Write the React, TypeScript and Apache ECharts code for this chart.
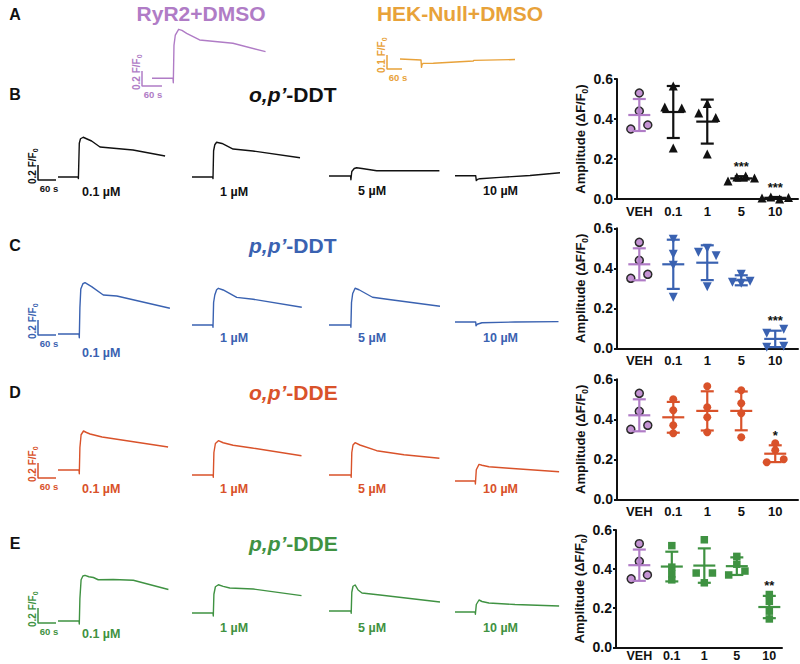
import React, { useEffect, useRef } from "react";
import * as echarts from "echarts";

// ===================== DATA =====================
const groupLabels = ["VEH", "0.1", "1", "5", "10"];
const concLabels = ["0.1 µM", "1 µM", "5 µM", "10 µM"];
const controlTitles = ["RyR2+DMSO", "HEK-Null+DMSO"];
const compoundIsomer = ["o,p’", "p,p’", "o,p’", "p,p’"];
const compoundName = ["-DDT", "-DDT", "-DDE", "-DDE"];
const panelLetters = ["A", "B", "C", "D", "E"];
const yTickValues = [0, 0.2, 0.4, 0.6];
const scaleBarSeconds = 60;
const scaleBarF = [0.2, 0.1];

// Amplitude (ΔF/F0) per cell — vehicle
const vehAmp = [0.53, 0.44, 0.35, 0.37];
const vehMean = 0.42;
const vehSd = 0.08;

// o,p'-DDT
const opDDTAmp = [
  [0.565, 0.46, 0.455, 0.255],
  [0.43, 0.478, 0.408, 0.225],
  [0.09, 0.11, 0.115, 0.105],
  [0.005, 0.01, 0.0, 0.008],
];
const opDDTMean = [0.435, 0.387, 0.103, 0.006];
const opDDTSd = [0.13, 0.11, 0.011, 0.004];
const opDDTSig = ["", "", "***", "***"];

// p,p'-DDT
const ppDDTAmp = [
  [0.545, 0.47, 0.415, 0.255],
  [0.48, 0.5, 0.463, 0.308],
  [0.33, 0.37, 0.325, 0.335],
  [0.075, 0.095, 0.005, 0.01],
];
const ppDDTMean = [0.42, 0.428, 0.34, 0.047];
const ppDDTSd = [0.123, 0.087, 0.025, 0.041];
const ppDDTSig = ["", "", "", "***"];

// o,p'-DDE
const opDDEAmp = [
  [0.5, 0.445, 0.37, 0.33],
  [0.565, 0.46, 0.41, 0.335],
  [0.545, 0.48, 0.43, 0.31],
  [0.28, 0.245, 0.185, 0.2],
];
const opDDEMean = [0.41, 0.442, 0.442, 0.228];
const opDDESd = [0.077, 0.098, 0.097, 0.042];
const opDDESig = ["", "", "", "*"];

// p,p'-DDE
const ppDDEAmp = [
  [0.52, 0.41, 0.375, 0.345],
  [0.55, 0.38, 0.38, 0.33],
  [0.465, 0.425, 0.37, 0.39],
  [0.27, 0.235, 0.185, 0.145],
];
const ppDDEMean = [0.413, 0.418, 0.415, 0.206];
const ppDDESd = [0.076, 0.088, 0.045, 0.057];
const ppDDESig = ["", "", "", "**"];

// Ca2+ traces: [time (s), F/F0]
const traceRyR2 = [[0, 1], [63, 1], [64, 0.94], [66, 1.44], [70, 1.577], [80, 1.653], [90, 1.64], [104, 1.6], [143, 1.511], [174, 1.497], [243, 1.467], [341, 1.355]];
const traceHEK = [[0, 1], [84, 0.993], [86, 0.94], [88, 0.96], [93, 0.969], [133, 0.97], [293, 0.986], [295, 0.99], [460, 0.996]];

const opDDTTraces = [
  [[0, 1], [67, 1], [68, 0.98], [71, 1.45], [75, 1.51], [84, 1.53], [95, 1.51], [112, 1.48], [140, 1.4], [250, 1.36], [357, 1.28]],
  [[0, 1], [69, 1], [70, 0.98], [72, 1.35], [76, 1.43], [82, 1.463], [100, 1.447], [137, 1.373], [203, 1.347], [360, 1.257]],
  [[0, 1], [72, 1], [73, 0.95], [76, 1.06], [84, 1.1], [92, 1.11], [110, 1.1], [159, 1.07], [368, 1.07]],
  [[0, 1], [69, 1], [71, 0.935], [75, 0.95], [83, 0.96], [150, 0.977], [250, 1.003], [350, 1.04]],
];
const ppDDTTraces = [
  [[0, 1], [70, 1], [71, 0.95], [73, 1.35], [76, 1.6], [83, 1.67], [90, 1.684], [112, 1.631], [151, 1.52], [196, 1.507], [373, 1.343]],
  [[0, 1], [69, 1], [70, 0.97], [72, 1.3], [76, 1.4], [82, 1.47], [88, 1.489], [104, 1.467], [149, 1.369], [204, 1.343], [366, 1.236]],
  [[0, 1], [72, 1], [73, 0.97], [75, 1.3], [79, 1.42], [87, 1.49], [100, 1.47], [145, 1.37], [200, 1.34], [370, 1.25]],
  [[0, 1], [69, 1], [70, 0.95], [74, 0.97], [90, 0.99], [200, 1.0], [345, 1.005]],
];
const opDDETraces = [
  [[0, 1], [70, 1], [71, 0.95], [73, 1.3], [77, 1.47], [85, 1.52], [95, 1.5], [107, 1.48], [147, 1.44], [367, 1.307]],
  [[0, 1], [70, 1], [71, 0.97], [73, 1.3], [78, 1.42], [88, 1.457], [104, 1.43], [137, 1.396], [200, 1.36], [365, 1.257]],
  [[0, 1], [73, 1], [74, 0.97], [76, 1.3], [80, 1.4], [87, 1.431], [103, 1.4], [159, 1.324], [250, 1.27], [368, 1.223]],
  [[0, 1], [67, 1], [68, 0.96], [71, 1.15], [80, 1.221], [90, 1.21], [113, 1.19], [180, 1.17], [347, 1.124]],
];
const ppDDETraces = [
  [[0, 1], [70, 1], [71, 0.96], [73, 1.3], [77, 1.55], [83, 1.6], [90, 1.609], [103, 1.59], [118, 1.58], [134, 1.55], [184, 1.553], [251, 1.544], [368, 1.42]],
  [[0, 1], [70, 1], [71, 0.96], [73, 1.25], [78, 1.35], [88, 1.377], [104, 1.355], [126, 1.333], [204, 1.32], [365, 1.231]],
  [[0, 1], [73, 1], [74, 0.97], [76, 1.25], [80, 1.33], [87, 1.347], [97, 1.28], [110, 1.24], [170, 1.213], [370, 1.12]],
  [[0, 1], [67, 1], [68, 0.97], [71, 1.1], [80, 1.16], [90, 1.14], [113, 1.12], [200, 1.1], [347, 1.08]],
];

// ===================== STYLE / LAYOUT =====================
const FONT = '"Liberation Sans", Arial, Helvetica, sans-serif';
const VEH_COLOR = "#B07CC6";
const VEH_FILL = "#C493D3";
const HEK_COLOR = "#E8A23A";
const ROW_COLORS = ["#111111", "#3A62B1", "#D9522A", "#3F9242"];
const ROW_SYMBOLS = ["triangle", "triangle", "circle", "rect"];
const ROW_SYMBOL_ROTATE = [0, 180, 0, 0];
const ROW_SYMBOL_SIZE = [9, 9, 8, 7.5];

const PX_PER_S = 0.3;
const PX_PER_F = 75;
const Y_MIN = 0.85;
const Y_MAX = 1.8;

const traceLeft = [58, 192, 329, 455];
const traceBase = [
  [177, 177, 176, 175.7],
  [334, 325, 325, 322],
  [470, 475, 475, 481],
  [621, 613, 611, 612],
];
const rowTitleY = [94, 245, 392, 543];
const rowLetterY = [14, 94, 245, 392, 543];
const concLabelX = [82, 220, 358, 483];
const concLabelY = [
  [192, 192, 191, 191],
  [353, 338, 338, 338],
  [489, 489, 489, 489],
  [634, 628, 628, 628],
];
const rowScaleCorner = [[38, 180], [38, 335], [38, 478], [38, 623]];

const scatterLayout = [
  { top: 79, left: 617, width: 181, height: 120, xMin: -0.656, xMax: 4.67, labelMargin: 6, labelSize: 13 },
  { top: 228.3, left: 617, width: 181, height: 120, xMin: -0.656, xMax: 4.67, labelMargin: 6, labelSize: 13 },
  { top: 379.3, left: 617, width: 181, height: 120, xMin: -0.656, xMax: 4.67, labelMargin: 6, labelSize: 13 },
  { top: 530, left: 616, width: 166, height: 117.3, xMin: -0.717, xMax: 4.39, labelMargin: 2, labelSize: 12.5 },
];

const rowAmp = [opDDTAmp, ppDDTAmp, opDDEAmp, ppDDEAmp];
const rowMean = [opDDTMean, ppDDTMean, opDDEMean, ppDDEMean];
const rowSd = [opDDTSd, ppDDTSd, opDDESd, ppDDESd];
const rowSig = [opDDTSig, ppDDTSig, opDDESig, ppDDESig];
const rowTraces = [opDDTTraces, ppDDTTraces, opDDETraces, ppDDETraces];

// simple beeswarm: spread points whose values nearly coincide
function swarm(vals: number[], thr = 0.028): number[] {
  const idx = vals.map((_, i) => i).sort((a, b) => vals[a] - vals[b]);
  const off = new Array(vals.length).fill(0);
  let cluster: number[] = [idx[0]];
  const flush = () => {
    const n = cluster.length;
    if (n > 1) {
      const step = n === 2 ? 0.5 : 0.26;
      const ordered = [...cluster].sort((a, b) => a - b);
      ordered.forEach((k, j) => (off[k] = (j - (n - 1) / 2) * step));
    }
  };
  for (let k = 1; k < idx.length; k++) {
    if (vals[idx[k]] - vals[idx[k - 1]] < thr) cluster.push(idx[k]);
    else {
      flush();
      cluster = [idx[k]];
    }
  }
  flush();
  return off;
}

function textEl(x: number, y: number, text: string, color: string, size: number, align = "center", extra: any = {}) {
  return {
    type: "text",
    x,
    y,
    silent: true,
    ...extra,
    style: {
      text,
      fill: color,
      font: `bold ${size}px ${FONT}`,
      fontSize: size,
      fontWeight: "bold",
      fontFamily: FONT,
      align,
      verticalAlign: "middle",
      textAlign: align,
      textVerticalAlign: "middle",
      ...(extra.style || {}),
    },
  };
}

function buildOption() {
  const grid: any[] = [];
  const xAxis: any[] = [];
  const yAxis: any[] = [];
  const series: any[] = [];
  const graphic: any[] = [];

  const addGrid = (g: any, xa: any, ya: any) => {
    const i = grid.length;
    grid.push({ ...g, outerBoundsMode: "none" });
    xAxis.push({ ...xa, gridIndex: i });
    yAxis.push({ ...ya, gridIndex: i });
    return i;
  };

  const addTrace = (data: number[][], left: number, baseY: number, color: string, pxS: number, pxF: number, yMin: number, yMax: number) => {
    const tMax = data[data.length - 1][0];
    const i = addGrid(
      { left, top: baseY - (yMax - 1) * pxF, width: tMax * pxS, height: (yMax - yMin) * pxF },
      { type: "value", min: 0, max: tMax, show: false },
      { type: "value", min: yMin, max: yMax, show: false }
    );
    series.push({
      type: "line",
      xAxisIndex: i,
      yAxisIndex: i,
      data,
      symbol: "none",
      showSymbol: false,
      clip: false,
      silent: true,
      lineStyle: { color, width: 1.4, join: "round" },
    });
  };

  const addScaleBar = (cx: number, cy: number, pxS: number, pxF: number, fVal: number, color: string) => {
    const i = addGrid(
      { left: cx, top: cy - fVal * pxF, width: scaleBarSeconds * pxS, height: fVal * pxF },
      { type: "value", min: 0, max: scaleBarSeconds, show: false },
      { type: "value", min: 0, max: fVal, show: false }
    );
    series.push({
      type: "line",
      xAxisIndex: i,
      yAxisIndex: i,
      data: [[0, fVal], [0, 0], [scaleBarSeconds, 0]],
      symbol: "none",
      showSymbol: false,
      clip: false,
      silent: true,
      lineStyle: { color, width: 1.5 },
    });
    graphic.push({
      type: "text",
      x: cx - 6,
      y: cy + 4,
      rotation: Math.PI / 2,
      silent: true,
      style: {
        text: `{n|${fVal.toFixed(1)} F/F}{s|0}`,
        fill: color,
        font: `bold 10px ${FONT}`,
        align: "left",
        verticalAlign: "middle",
        textAlign: "left",
        textVerticalAlign: "middle",
        rich: {
          n: { fontSize: 10, fontWeight: "bold", fontFamily: FONT, fill: color, lineHeight: 14, verticalAlign: "middle" },
          s: { fontSize: 7, fontWeight: "bold", fontFamily: FONT, fill: color, verticalAlign: "bottom" },
        },
      },
    });
    graphic.push(textEl(cx + 11, cy + 8, `${scaleBarSeconds} s`, color, 9.5));
  };

  // ---- Panel A ----
  addTrace(traceRyR2, 152, 78.3, VEH_COLOR, 0.333, PX_PER_F, Y_MIN, Y_MAX);
  addScaleBar(142, 86, 0.333, PX_PER_F, scaleBarF[0], VEH_COLOR);
  addTrace(traceHEK, 400, 59, HEK_COLOR, 0.25, 140, 0.9, 1.05);
  addScaleBar(387, 69, 0.25, 140, scaleBarF[1], HEK_COLOR);
  graphic.push(textEl(201, 13, controlTitles[0], VEH_COLOR, 21));
  graphic.push(textEl(460, 13, controlTitles[1], HEK_COLOR, 21));

  panelLetters.forEach((L, k) => graphic.push(textEl(15, rowLetterY[k], L, "#111", 16)));

  // ---- Rows B-E ----
  for (let r = 0; r < 4; r++) {
    const color = ROW_COLORS[r];
    rowTraces[r].forEach((tr, k) => {
      addTrace(tr, traceLeft[k], traceBase[r][k], color, PX_PER_S, PX_PER_F, Y_MIN, Y_MAX);
      graphic.push(textEl(concLabelX[k], concLabelY[r][k], concLabels[k], color, 12.5, "left"));
    });
    addScaleBar(rowScaleCorner[r][0], rowScaleCorner[r][1], PX_PER_S, PX_PER_F, scaleBarF[0], color);

    graphic.push({
      type: "text",
      x: 249,
      y: rowTitleY[r],
      silent: true,
      style: {
        text: `{i|${compoundIsomer[r]}}{n|${compoundName[r]}}`,
        fill: color,
        font: `bold 21px ${FONT}`,
        align: "left",
        verticalAlign: "middle",
        textAlign: "left",
        textVerticalAlign: "middle",
        rich: {
          i: { fontSize: 21, fontWeight: "bold", fontStyle: "italic", fontFamily: FONT, fill: color },
          n: { fontSize: 21, fontWeight: "bold", fontFamily: FONT, fill: color },
        },
      },
    });

    // scatter plot
    const L = scatterLayout[r];
    const gi = addGrid(
      { left: L.left, top: L.top, width: L.width, height: L.height },
      {
        type: "value",
        min: L.xMin,
        max: L.xMax,
        splitLine: { show: false },
        axisTick: { show: false },
        axisLine: { show: true, onZero: false, lineStyle: { color: "#111", width: 2 } },
        axisLabel: {
          customValues: [0, 1, 2, 3, 4],
          formatter: (v: number) => groupLabels[Math.round(v)] ?? "",
          color: "#111",
          fontSize: L.labelSize,
          fontWeight: "bold",
          fontFamily: FONT,
          margin: L.labelMargin,
        },
      },
      {
        type: "value",
        min: 0,
        max: 0.6,
        interval: 0.2,
        splitLine: { show: false },
        axisLine: { show: true, onZero: false, lineStyle: { color: "#111", width: 2 } },
        axisTick: { show: true, length: 3, lineStyle: { color: "#111", width: 2 }, customValues: yTickValues },
        axisLabel: {
          customValues: yTickValues,
          formatter: (v: number) => v.toFixed(1),
          color: "#111",
          fontSize: 14,
          fontWeight: "bold",
          fontFamily: FONT,
          margin: 4,
        },
        name: "{n|Amplitude (ΔF/F}{s|0}{n|)}",
        nameLocation: "middle",
        nameRotate: 90,
        nameGap: 23,
        nameTextStyle: {
          color: "#111",
          fontSize: 13,
          fontWeight: "bold",
          fontFamily: FONT,
          rich: {
            n: { fontSize: 13, fontWeight: "bold", fontFamily: FONT, color: "#111", lineHeight: 18, verticalAlign: "middle" },
            s: { fontSize: 8.5, fontWeight: "bold", fontFamily: FONT, color: "#111", verticalAlign: "bottom" },
          },
        },
      }
    );

    const vOff = swarm(vehAmp);
    series.push({
      type: "scatter",
      xAxisIndex: gi,
      yAxisIndex: gi,
      data: vehAmp.map((v, j) => [0 + vOff[j], v]),
      symbol: "circle",
      symbolSize: 8,
      silent: true,
      itemStyle: { color: VEH_FILL, borderColor: "#2a2a2a", borderWidth: 1.5, opacity: 1 },
      z: 2,
    });
    const pts: number[][] = [];
    rowAmp[r].forEach((vals, g) => {
      const off = swarm(vals);
      vals.forEach((v, j) => pts.push([g + 1 + off[j], v]));
    });
    series.push({
      type: "scatter",
      xAxisIndex: gi,
      yAxisIndex: gi,
      data: pts,
      symbol: ROW_SYMBOLS[r],
      symbolRotate: ROW_SYMBOL_ROTATE[r],
      symbolSize: ROW_SYMBOL_SIZE[r],
      silent: true,
      itemStyle: { color, opacity: 1 },
      z: 2,
    });

    const means = [vehMean, ...rowMean[r]];
    const sds = [vehSd, ...rowSd[r]];
    const sigs = ["", ...rowSig[r]];
    series.push({
      type: "custom",
      xAxisIndex: gi,
      yAxisIndex: gi,
      silent: true,
      z: 3,
      data: means.map((m, i) => [i, m, sds[i]]),
      renderItem: (params: any, api: any) => {
        const i = params.dataIndex;
        const x = api.value(0);
        const m = api.value(1);
        const s = api.value(2);
        const c = api.coord([x, m]);
        const hi = api.coord([x, m + s]);
        const lo = api.coord([x, m - s]);
        const col = i === 0 ? VEH_COLOR : color;
        const ls = { stroke: col, lineWidth: 2.2 };
        const children: any[] = [
          { type: "line", shape: { x1: c[0], y1: hi[1], x2: c[0], y2: lo[1] }, style: ls },
          { type: "line", shape: { x1: c[0] - 6.5, y1: hi[1], x2: c[0] + 6.5, y2: hi[1] }, style: ls },
          { type: "line", shape: { x1: c[0] - 6.5, y1: lo[1], x2: c[0] + 6.5, y2: lo[1] }, style: ls },
          { type: "line", shape: { x1: c[0] - 11, y1: c[1], x2: c[0] + 11, y2: c[1] }, style: ls },
        ];
        if (sigs[i]) {
          children.push({
            type: "text",
            x: c[0],
            y: hi[1] - 10,
            style: {
              text: sigs[i],
              fill: "#111",
              font: `bold 13px ${FONT}`,
              align: "center",
              verticalAlign: "middle",
              textAlign: "center",
              textVerticalAlign: "middle",
            },
          });
        }
        return { type: "group", children };
      },
    });
  }

  return {
    animation: false,
    backgroundColor: "#ffffff",
    textStyle: { fontFamily: FONT },
    grid,
    xAxis,
    yAxis,
    series,
    graphic,
  };
}

export default function App() {
  const ref = useRef<HTMLDivElement>(null);
  useEffect(() => {
    if (!ref.current) return;
    const chart = echarts.init(ref.current, null, { renderer: "svg" });
    chart.setOption(buildOption() as any);
    return () => chart.dispose();
  }, []);
  return (
    <div
      ref={ref}
      style={{ position: "absolute", left: 0, top: 0, width: 800, height: 664, background: "#fff" }}
    />
  );
}
